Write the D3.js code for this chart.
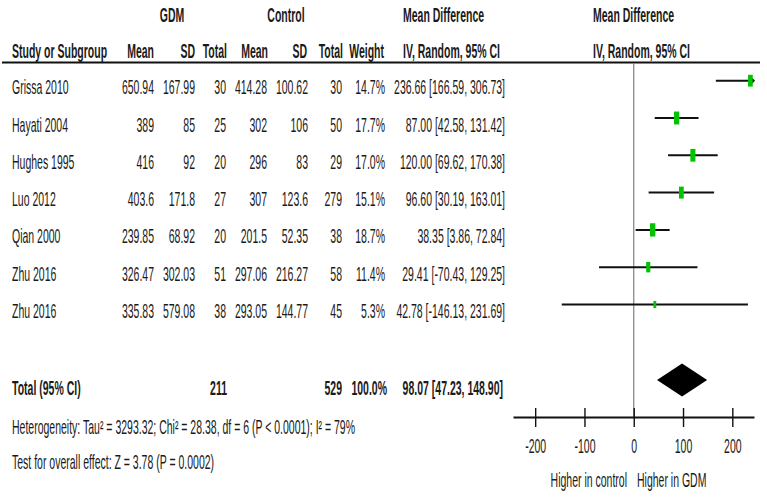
<!DOCTYPE html>
<html lang="en">
<head>
<meta charset="utf-8">
<script src="https://d3js.org/d3.v7.min.js"></script>
<style>
  body { margin: 0; background: #fff; }
  text { font-family: "Liberation Sans", Arial, sans-serif; font-size: 20px; fill: #1a1a1a; }
</style>
</head>
<body>
<div id="place"></div>
<script>
// study rows
const studies   = ["Grissa 2010", "Hayati 2004", "Hughes 1995", "Luo 2012", "Qian 2000", "Zhu 2016", "Zhu 2016"];
const gdmMean   = [650.94, 389, 416, 403.6, 239.85, 326.47, 335.83];
const gdmSD     = [167.99, 85, 92, 171.8, 68.92, 302.03, 579.08];
const gdmTotal  = [30, 25, 20, 27, 20, 51, 38];
const ctrlMean  = [414.28, 302, 296, 307, 201.5, 297.06, 293.05];
const ctrlSD    = [100.62, 106, 83, 123.6, 52.35, 216.27, 144.77];
const ctrlTotal = [30, 50, 29, 279, 38, 58, 45];
const weight    = [14.7, 17.7, 17.0, 15.1, 18.7, 11.4, 5.3];
const md        = [236.66, 87.00, 120.00, 96.60, 38.35, 29.41, 42.78];
const ciLow     = [166.59, 42.58, 69.62, 30.19, 3.86, -70.43, -146.13];
const ciHigh    = [306.73, 131.42, 170.38, 163.01, 72.84, 129.25, 231.69];

// pooled
const totalGdm = 211, totalCtrl = 529, totalWeight = 100.0;
const pooled = { md: 98.07, lo: 47.23, hi: 148.90 };

const axisTicks = [-200, -100, 0, 100, 200];
const hetText  = "Heterogeneity: Tau\u00b2 = 3293.32; Chi\u00b2 = 28.38, df = 6 (P < 0.0001); I\u00b2 = 79%";
const testText = "Test for overall effect: Z = 3.78 (P = 0.0002)";

const width = 767, height = 499;
const SX = 0.525; // horizontal squeeze of the text

const svg = d3.select("#place").append("svg")
  .attr("width", width).attr("height", height);

function txt(x, y, s, anchor, bold) {
  return svg.append("text")
    .attr("transform", `translate(${x},${y}) scale(${SX},1)`)
    .attr("text-anchor", anchor || "start")
    .style("font-weight", bold ? "bold" : "normal")
    .text(s);
}

const x = d3.scaleLinear().domain([-245, 244]).range([513, 754]);
const rowY = i => 80.7 + i * 37.3;      // line centre of each study row
const totalY = 380;
const axisY = 417;

// headers
txt(172, 21.5, "GDM", "middle", true);
txt(286, 21.5, "Control", "middle", true);
txt(403, 21.5, "Mean Difference", "start", true);
txt(593, 21.5, "Mean Difference", "start", true);

const hy = 58;
txt(12, hy, "Study or Subgroup", "start", true);
txt(154, hy, "Mean", "end", true);
txt(195, hy, "SD", "end", true);
txt(227, hy, "Total", "end", true);
txt(268, hy, "Mean", "end", true);
txt(307, hy, "SD", "end", true);
txt(343, hy, "Total", "end", true);
txt(384, hy, "Weight", "end", true);
txt(403, hy, "IV, Random, 95% CI", "start", true);
txt(593, hy, "IV, Random, 95% CI", "start", true);

svg.append("line")
  .attr("x1", 2).attr("x2", 760).attr("y1", 62.5).attr("y2", 62.5)
  .attr("stroke", "#111").attr("stroke-width", 2);

// zero line
svg.append("line")
  .attr("x1", x(0)).attr("x2", x(0)).attr("y1", 64).attr("y2", axisY)
  .attr("stroke", "#808080").attr("stroke-width", 1.2);

// study rows
studies.forEach((s, i) => {
  const ty = rowY(i) + 13.5;
  txt(12, ty, s);
  txt(154, ty, String(gdmMean[i]), "end");
  txt(195, ty, String(gdmSD[i]), "end");
  txt(226, ty, String(gdmTotal[i]), "end");
  txt(267, ty, String(ctrlMean[i]), "end");
  txt(308, ty, String(ctrlSD[i]), "end");
  txt(342, ty, String(ctrlTotal[i]), "end");
  txt(385, ty, weight[i].toFixed(1) + "%", "end");
  txt(505, ty, `${md[i].toFixed(2)} [${ciLow[i].toFixed(2)}, ${ciHigh[i].toFixed(2)}]`, "end");

  const dmin = x.domain()[0], dmax = x.domain()[1];
  const lo = Math.max(ciLow[i], dmin), hi = Math.min(ciHigh[i], dmax);
  const y = rowY(i);
  svg.append("line")
    .attr("x1", x(lo)).attr("x2", x(hi)).attr("y1", y).attr("y2", y)
    .attr("stroke", "#111").attr("stroke-width", 2);
  if (ciHigh[i] > dmax) {
    svg.append("path")
      .attr("d", `M${x(hi) - 4},${y - 4}L${x(hi)},${y}L${x(hi) - 4},${y + 4}`)
      .attr("fill", "none").attr("stroke", "#111").attr("stroke-width", 1.5);
  }
  const w = 1.23 * Math.sqrt(weight[i]);
  const h = 2.5 * w;
  svg.append("rect")
    .attr("x", x(md[i]) - w / 2).attr("y", y - h / 2)
    .attr("width", w).attr("height", h)
    .attr("fill", "#00c400");
});

// total row
const tty = totalY + 15;
txt(12, tty, "Total (95% CI)", "start", true);
txt(227, tty, String(totalGdm), "end", true);
txt(342, tty, String(totalCtrl), "end", true);
txt(387, tty, totalWeight.toFixed(1) + "%", "end", true);
txt(503, tty, `${pooled.md.toFixed(2)} [${pooled.lo.toFixed(2)}, ${pooled.hi.toFixed(2)}]`, "end", true);

svg.append("path")
  .attr("d", `M${x(pooled.lo)},${totalY}L${x(pooled.md)},${totalY - 16.5}L${x(pooled.hi)},${totalY}L${x(pooled.md)},${totalY + 16.5}Z`)
  .attr("fill", "#000");

txt(12, 434, hetText);
txt(12, 469, testText);

// axis
const axis = svg.append("g")
  .attr("transform", `translate(0,${axisY})`)
  .call(d3.axisBottom(x).tickValues(axisTicks).tickSizeOuter(0).tickFormat(d3.format("d")));
axis.select(".domain").attr("stroke", "#111").attr("stroke-width", 2);
axis.selectAll(".tick line").attr("y1", -9).attr("y2", 10)
  .attr("stroke", "#111").attr("stroke-width", 1.4);
axis.selectAll(".tick text")
  .attr("y", null).attr("dy", null)
  .attr("transform", `translate(0,36) scale(${SX},1)`)
  .attr("fill", "#1a1a1a")
  .style("font-size", "20px")
  .style("font-family", '"Liberation Sans", Arial, sans-serif');
axis.selectAll(".tick text").filter(d => d < 0).text(d => "-" + Math.abs(d));

txt(627, 487, "Higher in control", "end");
txt(637, 487, "Higher in GDM", "start");
</script>
</body>
</html>
